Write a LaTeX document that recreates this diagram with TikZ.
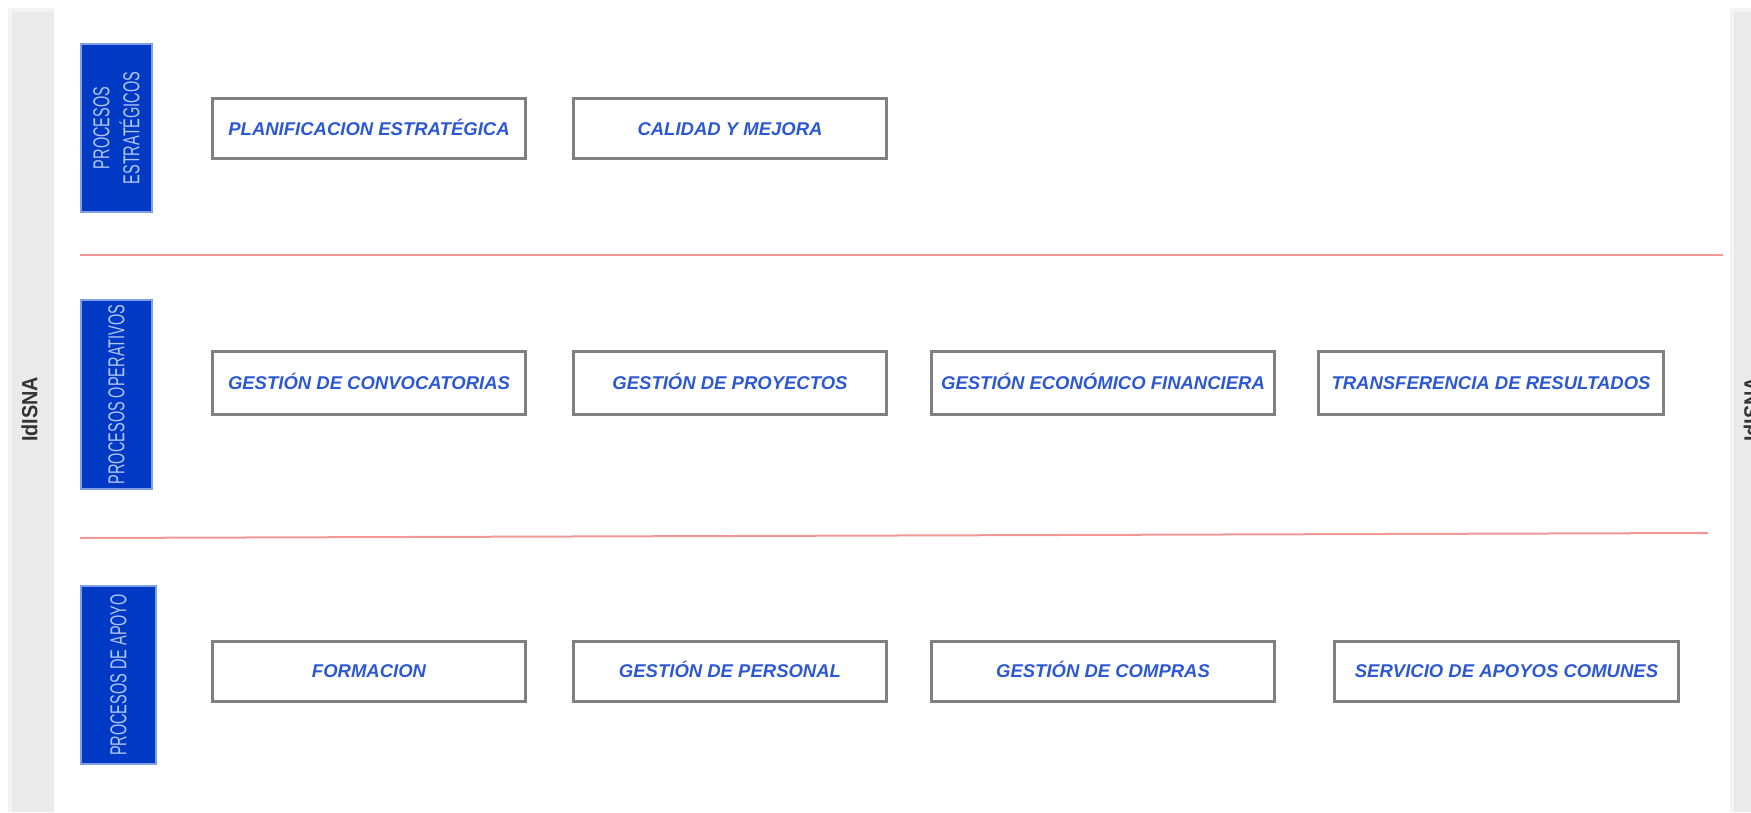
\documentclass[tikz,border=0pt]{standalone}
\usepackage{fontspec}
\setmainfont{Liberation Sans}
\newfontfamily\narrowfont[FakeStretch=0.63]{Liberation Sans}
\newfontfamily\idfont[FakeStretch=0.9]{Liberation Sans}
\definecolor{boxtext}{RGB}{45,88,212}
\definecolor{bluefill}{RGB}{0,57,196}
\definecolor{blueedge}{RGB}{128,160,228}
\definecolor{labeltext}{RGB}{178,198,242}
\definecolor{redline}{RGB}{240,152,152}
\definecolor{boxborder}{RGB}{128,128,128}
\definecolor{bandgray}{RGB}{234,234,234}
\definecolor{bandlight}{RGB}{243,243,243}
\tikzset{
  procbox/.style={draw=boxborder, line width=3pt, fill=white, inner sep=0pt,
    text height=13.2pt, text depth=0pt,
    font=\fontsize{18.5}{22}\selectfont\bfseries\itshape, text=boxtext},
  grouplabel/.style={rotate=90, fill=bluefill, draw=blueedge, line width=2pt,
    inner sep=0pt, align=center, text=labeltext,
    font=\narrowfont\fontsize{23}{30}\selectfont},
  sepline/.style={draw=redline, line width=2pt},
  bandtext/.style={rotate=90, inner sep=0pt, text=black!80,
    font=\idfont\fontsize{22}{26}\selectfont\bfseries}
}
\begin{document}
\begin{tikzpicture}[x=1pt,y=-1pt]
\useasboundingbox (0,0) rectangle (1751,812);
\fill[white] (0,0) rectangle (1751,812);
% side bands
\fill[bandlight] (7.5,8) rectangle (53.5,812);
\fill[bandgray] (11.5,12) rectangle (53.5,812);
\fill[bandlight] (1730,8) rectangle (1751,812);
\fill[bandgray] (1734,12) rectangle (1751,812);
\node[bandtext] (idl) at (29.5,409.5) {IdISNA};
\node[bandtext] (idr) at (1751.8,409.5) {IdISNA};
% group labels
\node[grouplabel, minimum width=168pt, minimum height=71pt] (g1) at (116.5,128) {PROCESOS\\ESTRATÉGICOS};
\node[grouplabel, minimum width=189pt, minimum height=71pt] (g2) at (116.5,394.5) {PROCESOS OPERATIVOS};
\node[grouplabel, minimum width=178pt, minimum height=75pt] (g3) at (118.5,675) {PROCESOS DE APOYO};
% separators
\coordinate (s1a) at (80,255);
\coordinate (s1b) at (1723,255);
\coordinate (s2a) at (80,538);
\coordinate (s2b) at (1708,533);
\draw[sepline] (s1a) -- (s1b);
\draw[sepline] (s2a) -- (s2b);
% row 1
\node[procbox, minimum width=313pt, minimum height=60pt] (p1) at (369,128.5) {PLANIFICACION ESTRATÉGICA};
\node[procbox, minimum width=313pt, minimum height=60pt] (p2) at (730,128.5) {CALIDAD Y MEJORA};
% row 2
\node[procbox, minimum width=313pt, minimum height=63pt] (o1) at (369,383) {GESTIÓN DE CONVOCATORIAS};
\node[procbox, minimum width=313pt, minimum height=63pt] (o2) at (730,383) {GESTIÓN DE PROYECTOS};
\node[procbox, minimum width=343pt, minimum height=63pt] (o3) at (1103,383) {GESTIÓN ECONÓMICO FINANCIERA};
\node[procbox, minimum width=345pt, minimum height=63pt] (o4) at (1491,383) {TRANSFERENCIA DE RESULTADOS};
% row 3
\node[procbox, minimum width=313pt, minimum height=60pt] (a1) at (369,671) {FORMACION};
\node[procbox, minimum width=313pt, minimum height=60pt] (a2) at (730,671) {GESTIÓN DE PERSONAL};
\node[procbox, minimum width=343pt, minimum height=60pt] (a3) at (1103,671) {GESTIÓN DE COMPRAS};
\node[procbox, minimum width=344pt, minimum height=60pt] (a4) at (1506.5,671) {SERVICIO DE APOYOS COMUNES};
\end{tikzpicture}
\end{document}
